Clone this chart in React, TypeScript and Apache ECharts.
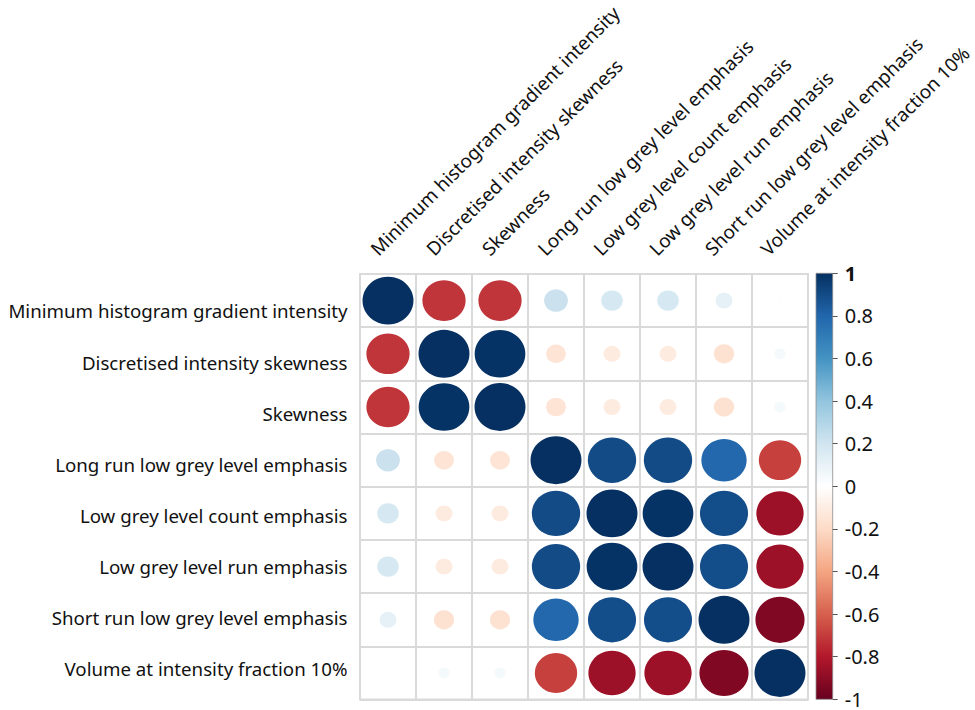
import React, { useEffect, useRef } from "react";
import * as echarts from "echarts";

const features: string[] = [
  "Minimum histogram gradient intensity",
  "Discretised intensity skewness",
  "Skewness",
  "Long run low grey level emphasis",
  "Low grey level count emphasis",
  "Low grey level run emphasis",
  "Short run low grey level emphasis",
  "Volume at intensity fraction 10%",
];

const row1 = [1, -0.72, -0.72, 0.22, 0.18, 0.18, 0.11, 0.01];
const row2 = [-0.72, 1, 0.99, -0.15, -0.11, -0.11, -0.16, 0.05];
const row3 = [-0.72, 0.99, 1, -0.15, -0.11, -0.11, -0.16, 0.05];
const row4 = [0.22, -0.15, -0.15, 1, 0.9, 0.9, 0.79, -0.69];
const row5 = [0.18, -0.11, -0.11, 0.9, 1, 0.99, 0.89, -0.86];
const row6 = [0.18, -0.11, -0.11, 0.9, 0.99, 1, 0.89, -0.86];
const row7 = [0.11, -0.16, -0.16, 0.79, 0.89, 0.89, 1, -0.93];
const row8 = [0.01, 0.05, 0.05, -0.69, -0.86, -0.86, -0.93, 1];
const corr = [row1, row2, row3, row4, row5, row6, row7, row8];

const colorbarTicks = { min: -1, max: 1, interval: 0.2 };

const RdBu = [
  "#67001F", "#B2182B", "#D6604D", "#F4A582", "#FDDBC7", "#FFFFFF",
  "#D1E5F0", "#92C5DE", "#4393C3", "#2166AC", "#053061",
];

const GL = 360, GT = 274, GW = 448, GH = 425.6;
const CW = GW / 8, CH = GH / 8;
const FONT = "Noto Sans";

export default function App() {
  const ref = useRef<HTMLDivElement>(null);
  useEffect(() => {
    if (!ref.current) return;
    const chart = echarts.init(ref.current, null, { renderer: "svg" });
    const data: number[][] = [];
    corr.forEach((row, i) => row.forEach((v, j) => data.push([j, i, v])));
    const gridLine = { show: true, interval: 0, lineStyle: { color: "#dadada", width: 2 } };
    const hiddenLine = { show: false, onZero: false };
    const option: any = {
      animation: false,
      backgroundColor: "#ffffff",
      grid: [
        { left: GL, top: GT, width: GW, height: GH, show: true, borderColor: "#dadada", borderWidth: 2, backgroundColor: "transparent" },
        { left: GL, top: 285.4, width: GW, height: 409.1 },
        { left: GL - 14, top: GT, width: GW, height: GH },
        { left: 816, top: 273.3, width: 16.7, height: 426 },
      ],
      xAxis: [
        { type: "category", gridIndex: 0, data: features, position: "top", axisLine: hiddenLine, axisTick: { show: false, interval: 0 }, axisLabel: { show: false, interval: 0 }, splitLine: gridLine },
        { type: "value", gridIndex: 1, show: false, min: 0, max: 1, axisLine: hiddenLine, splitLine: { show: false } },
        {
          type: "category", gridIndex: 2, data: features, position: "top",
          axisLine: { show: false }, axisTick: { show: false }, splitLine: { show: false },
          axisLabel: { show: true, interval: 0, rotate: 45, margin: 22, fontSize: 18.9, fontFamily: FONT, color: "#111" },
        },
        { type: "value", gridIndex: 3, show: false, min: 0, max: 1, axisLine: hiddenLine, splitLine: { show: false } },
      ],
      yAxis: [
        { type: "category", gridIndex: 0, data: features, inverse: true, axisLine: hiddenLine, axisTick: { show: false, interval: 0 }, axisLabel: { show: false, interval: 0 }, splitLine: gridLine },
        {
          type: "category", gridIndex: 1, data: features, inverse: true,
          axisLine: hiddenLine, axisTick: { show: false }, splitLine: { show: false },
          axisLabel: { show: true, interval: 0, margin: 12.5, fontSize: 18.7, fontFamily: FONT, color: "#111" },
        },
        { type: "value", gridIndex: 2, show: false },
        {
          type: "value", gridIndex: 3, position: "right",
          min: colorbarTicks.min, max: colorbarTicks.max, interval: colorbarTicks.interval,
          axisLine: hiddenLine, splitLine: { show: false },
          axisTick: { show: true, length: 5, lineStyle: { color: "#555", width: 1 } },
          axisLabel: {
            show: true, margin: 12,
            formatter: (v: number) => {
              const s = Math.abs(v) < 1e-9 ? "0" : String(+v.toFixed(1));
              return s === "1" ? "{b|1}" : "{n|" + s + "}";
            },
            rich: {
              b: { fontSize: 20, fontWeight: "bold", fontFamily: FONT, color: "#111" },
              n: { fontSize: 20, fontFamily: FONT, color: "#111" },
            },
          },
        },
      ],
      visualMap: {
        type: "continuous", show: false, min: -1, max: 1, dimension: 2, seriesIndex: 0,
        inRange: { color: RdBu },
      },
      series: [
        {
          type: "scatter", xAxisIndex: 0, yAxisIndex: 0, data,
          symbol: "circle",
          symbolSize: (val: number[]) => {
            const a = Math.sqrt(Math.abs(val[2]));
            return [CW * 0.91 * a, CH * 0.9 * a];
          },
          itemStyle: { opacity: 1 },
          emphasis: { disabled: true },
        },
      ],
      graphic: [
        {
          type: "rect", z: 0,
          shape: { x: 816, y: 273.3, width: 16.7, height: 426 },
          style: {
            fill: new echarts.graphic.LinearGradient(0, 0, 0, 1,
              RdBu.slice().reverse().map((c, i) => ({ offset: i / (RdBu.length - 1), color: c }))),
            stroke: "#8a8a8a", lineWidth: 0.8,
          },
        },
      ],
    };
    chart.setOption(option);
    return () => chart.dispose();
  }, []);
  return <div ref={ref} style={{ position: "fixed", left: 0, top: 0, width: 975, height: 710 }} />;
}
